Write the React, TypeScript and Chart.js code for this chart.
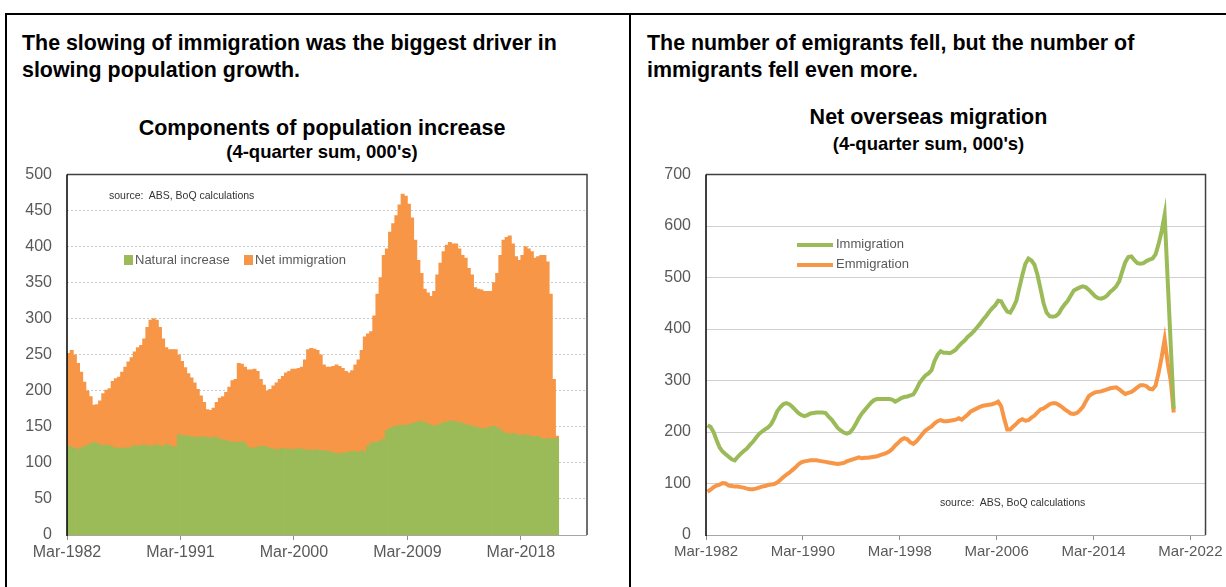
import React, { useEffect, useRef } from "react";
import { Chart, registerables } from "chart.js";

Chart.register(...registerables);

// ---------- data (quarterly, Mar-1982 onward, 4-quarter sums, 000's) ----------
const naturalIncrease = [
  123, 122, 120, 118, 121, 123, 124, 127, 128, 127,
  125, 124, 125, 124, 122, 121, 120, 121, 120, 121,
  122, 124, 123, 124, 125, 124, 123, 124, 125, 124,
  122, 126, 124, 122, 123, 139, 138, 138, 137, 136,
  136, 135, 136, 136, 135, 134, 136, 135, 133, 132,
  131, 129, 129, 128, 129, 129, 127, 122, 120, 121,
  122, 123, 123, 122, 120, 119, 118, 119, 120, 119,
  119, 118, 119, 120, 119, 118, 118, 117, 118, 118,
  117, 117, 116, 116, 114, 113, 113, 114, 114, 115,
  116, 116, 115, 117, 115, 123, 127, 129, 128, 131,
  133, 145, 148, 150, 151, 152, 152, 152, 153, 154,
  156, 157, 158, 156, 154, 152, 151, 152, 154, 156,
  157, 158, 158, 157, 156, 155, 153, 152, 151, 150,
  149, 148, 147, 149, 150, 151, 149, 146, 143, 141,
  140, 141, 140, 138, 139, 139, 138, 137, 136, 137,
  134, 133, 134, 133, 134, 134,
];

const netImmigration = [
  129, 134, 130, 120, 105, 89, 76, 65, 52, 54,
  61, 72, 76, 79, 91, 96, 99, 105, 113, 119,
  124, 130, 137, 139, 147, 164, 175, 176, 173, 164,
  150, 134, 133, 135, 134, 111, 103, 94, 87, 82,
  75, 67, 57, 48, 39, 39, 40, 49, 57, 60,
  67, 76, 85, 88, 109, 108, 106, 107, 109, 109,
  105, 93, 85, 78, 82, 88, 93, 97, 100, 106,
  108, 112, 111, 111, 114, 125, 139, 142, 140, 138,
  133, 119, 117, 117, 120, 123, 121, 117, 113, 110,
  112, 120, 128, 139, 160, 156, 155, 175, 206, 226,
  255, 252, 272, 282, 292, 306, 321, 318, 306, 286,
  253, 224, 205, 185, 182, 179, 187, 209, 223, 237,
  245, 248, 246, 247, 241, 233, 231, 218, 210, 193,
  192, 192, 191, 189, 188, 199, 214, 242, 266, 272,
  275, 263, 246, 243, 249, 261, 259, 256, 248, 249,
  254, 255, 245, 201, 82, 3,
];

const immigration = [
  213, 210, 200, 184, 170, 162, 157, 152, 147, 145,
  152, 158, 163, 168, 175, 181, 189, 196, 201, 205,
  209, 215, 226, 240, 248, 254, 256, 254, 249, 243,
  237, 233, 231, 233, 236, 237, 238, 238, 238, 237,
  230, 224, 216, 208, 203, 199, 197, 199, 206, 216,
  227, 236, 243, 250, 257, 262, 264, 264, 264, 264,
  264, 263, 259, 262, 266, 268, 269, 271, 273, 283,
  295, 303, 310, 314, 320, 338, 350, 357, 354, 354,
  353, 356, 360, 367, 373, 378, 385, 390, 396, 403,
  410, 418, 425, 433, 440, 446, 455, 454, 443, 434,
  432, 442, 455, 480, 505, 527, 537, 533, 525, 505,
  478, 450, 432, 425, 424, 425, 430, 440, 448, 455,
  465, 475, 478, 481, 483, 481, 476, 470, 464, 460,
  459, 461, 465, 472, 477, 483, 493, 512, 530, 540,
  541, 534, 528, 527, 528, 532, 535, 537, 545, 565,
  590, 622, 495, 370, 245,
];

const emigration = [
  84, 88, 93, 96, 98, 101, 100, 96, 95, 94,
  94, 93, 92, 90, 89, 89, 90, 92, 94, 95,
  97, 98, 99, 102, 107, 112, 117, 121, 126, 131,
  137, 141, 143, 144, 145, 145, 145, 144, 143, 142,
  141, 140, 139, 138, 139, 140, 143, 145, 147, 149,
  151, 149, 150, 150, 151, 152, 153, 155, 157, 159,
  162, 167, 174, 179, 185, 188, 186, 180, 177, 182,
  189, 196, 203, 207, 211, 217, 221, 223, 221, 221,
  222, 223, 224, 227, 224, 229, 234, 240, 243, 246,
  249, 251, 252, 253, 254, 256, 259, 250, 226, 205,
  205, 211, 216, 222, 225, 222, 223, 228, 232, 238,
  244, 246, 250, 254, 256, 256, 253, 249, 244, 240,
  236, 235, 237, 242, 249, 260, 270, 274, 277, 278,
  279, 281, 283, 285, 286, 287, 283, 278, 274, 276,
  278, 282, 287, 291, 291, 289, 284, 283, 290, 315,
  345, 380, 334, 300, 238,
];

const categoryCount = 165;
const leftTickPositions = [0, 36, 72, 108, 144];
const leftTickLabels = ["Mar-1982", "Mar-1991", "Mar-2000", "Mar-2009", "Mar-2018"];
const rightTickPositions = [0, 32, 64, 96, 128, 160];
const rightTickLabels = ["Mar-1982", "Mar-1990", "Mar-1998", "Mar-2006", "Mar-2014", "Mar-2022"];

const GREEN = "#9BBB59";
const ORANGE = "#F79646";
const SANS = "'Liberation Sans', Arial, Helvetica, sans-serif";
const TICK_COLOR = "#595959";

const framePlugin = {
  id: "plotFrame",
  afterDatasetsDraw(chart: any) {
    const { ctx, chartArea: a } = chart;
    ctx.save();
    ctx.lineWidth = 1;
    ctx.strokeStyle = "#a6a6a6";
    ctx.beginPath();
    ctx.moveTo(a.left, a.bottom + 0.5);
    ctx.lineTo(a.right, a.bottom + 0.5);
    ctx.stroke();
    ctx.lineWidth = 1.5;
    ctx.strokeStyle = "#404040";
    ctx.beginPath();
    ctx.moveTo(a.left, a.top);
    ctx.lineTo(a.right, a.top);
    ctx.lineTo(a.right, a.bottom);
    ctx.stroke();
    ctx.strokeStyle = "#000000";
    ctx.beginPath();
    ctx.moveTo(a.left, a.top);
    ctx.lineTo(a.left, a.bottom + 1);
    ctx.stroke();
    ctx.restore();
  },
};

function xScale(positions: number[], labels: string[], fontSize: number) {
  return {
    type: "linear" as const,
    min: 0,
    max: categoryCount,
    offset: false,
    stacked: true,
    border: { display: false },
    grid: {
      offset: false,
      drawOnChartArea: false,
      drawTicks: true,
      tickLength: 5,
      color: "#8c8c8c",
    },
    ticks: {
      autoSkip: false,
      maxRotation: 0,
      padding: 3,
      color: TICK_COLOR,
      font: { family: SANS, size: fontSize },
      callback: (v: any) => {
        const k = positions.indexOf(Number(v));
        return k >= 0 ? labels[k] : "";
      },
    },
    afterBuildTicks: (s: any) => {
      s.ticks = positions.map((v) => ({ value: v }));
    },
    afterFit: (s: any) => {
      s.height = 45;
    },
  };
}

function LeftChart() {
  const ref = useRef<HTMLCanvasElement | null>(null);
  useEffect(() => {
    if (!ref.current) return;
    const chart = new Chart(ref.current, {
      type: "bar",
      data: {
        datasets: [
          {
            label: "Natural increase",
            data: naturalIncrease.map((v, i) => ({ x: i + 0.5, y: v })),
            backgroundColor: GREEN,
            borderWidth: 0,
            inflateAmount: 0.4,
            categoryPercentage: 1,
            barPercentage: 1,
          },
          {
            label: "Net immigration",
            data: netImmigration.map((v, i) => ({ x: i + 0.5, y: v })),
            backgroundColor: ORANGE,
            borderWidth: 0,
            inflateAmount: 0.4,
            categoryPercentage: 1,
            barPercentage: 1,
          },
        ],
      } as any,
      options: {
        animation: false,
        responsive: false,
        maintainAspectRatio: false,
        layout: { padding: { top: 18, right: 37, left: 0, bottom: 0 } },
        plugins: { legend: { display: false }, tooltip: { enabled: false } },
        scales: {
          x: xScale(leftTickPositions, leftTickLabels, 16) as any,
          y: {
            stacked: true,
            min: 0,
            max: 500,
            border: { display: false, dash: [2, 2] },
            grid: { color: "#c8c8c8", drawTicks: false, lineWidth: 1 },
            ticks: {
              stepSize: 50,
              padding: 15,
              color: TICK_COLOR,
              font: { family: SANS, size: 16 },
            },
            afterFit: (s: any) => {
              s.width = 59;
            },
          },
        },
      },
      plugins: [framePlugin],
    });
    return () => chart.destroy();
  }, []);
  return (
    <canvas
      ref={ref}
      width={616}
      height={430}
      style={{ position: "absolute", left: 8, top: 150, width: 616, height: 430 }}
    />
  );
}

function RightChart() {
  const ref = useRef<HTMLCanvasElement | null>(null);
  useEffect(() => {
    if (!ref.current) return;
    const chart = new Chart(ref.current, {
      type: "line",
      data: {
        datasets: [
          {
            label: "Immigration",
            data: immigration.map((v, i) => ({ x: i + 0.5, y: v })),
            borderColor: GREEN,
            backgroundColor: GREEN,
            borderWidth: 4,
            pointRadius: 0,
            tension: 0,
            fill: false,
          },
          {
            label: "Emmigration",
            data: emigration.map((v, i) => ({ x: i + 0.5, y: v })),
            borderColor: ORANGE,
            backgroundColor: ORANGE,
            borderWidth: 4,
            pointRadius: 0,
            tension: 0,
            fill: false,
          },
        ],
      } as any,
      options: {
        animation: false,
        responsive: false,
        maintainAspectRatio: false,
        layout: { padding: { top: 18, right: 17, left: 0, bottom: 0 } },
        plugins: { legend: { display: false }, tooltip: { enabled: false } },
        scales: {
          x: xScale(rightTickPositions, rightTickLabels, 15) as any,
          y: {
            min: 0,
            max: 700,
            border: { display: false },
            grid: { color: "#d0d0d0", drawTicks: false, lineWidth: 1 },
            ticks: {
              stepSize: 100,
              padding: 15,
              color: TICK_COLOR,
              font: { family: SANS, size: 16 },
            },
            afterFit: (s: any) => {
              s.width = 66;
            },
          },
        },
      },
      plugins: [framePlugin],
    });
    return () => chart.destroy();
  }, []);
  return (
    <canvas
      ref={ref}
      width={586}
      height={430}
      style={{ position: "absolute", left: 640, top: 150, width: 586, height: 430 }}
    />
  );
}

const abs = (s: React.CSSProperties): React.CSSProperties => ({ position: "absolute", ...s });

export default function App() {
  const headStyle: React.CSSProperties = {
    fontFamily: SANS,
    fontWeight: "bold",
    fontSize: 21.4,
    lineHeight: "27px",
    color: "#000",
    whiteSpace: "nowrap",
  };
  const titleStyle: React.CSSProperties = {
    fontFamily: SANS,
    fontWeight: "bold",
    fontSize: 21.5,
    color: "#000",
    textAlign: "center",
    whiteSpace: "nowrap",
    lineHeight: "24px",
  };
  const subStyle: React.CSSProperties = {
    fontFamily: SANS,
    fontWeight: "bold",
    fontSize: 18.5,
    color: "#000",
    textAlign: "center",
    whiteSpace: "nowrap",
    lineHeight: "20px",
  };
  const legendText: React.CSSProperties = {
    fontFamily: SANS,
    fontSize: 13,
    color: TICK_COLOR,
    whiteSpace: "nowrap",
    lineHeight: "16px",
  };
  const sourceText: React.CSSProperties = {
    fontFamily: SANS,
    fontSize: 10.5,
    color: "#333",
    whiteSpace: "nowrap",
    lineHeight: "12px",
  };
  return (
    <div
      style={abs({
        left: 0,
        top: 0,
        width: 1226,
        height: 587,
        overflow: "hidden",
        background: "#fff",
      })}
    >
      {/* panel borders */}
      <div style={abs({ left: 5, top: 13, width: 1221, height: 2, background: "#000" })} />
      <div style={abs({ left: 5, top: 13, width: 2, height: 574, background: "#000" })} />
      <div style={abs({ left: 629, top: 13, width: 2, height: 574, background: "#000" })} />

      {/* headers */}
      <div style={abs({ ...headStyle, left: 22, top: 30 })}>
        The slowing of immigration was the biggest driver in
        <br />
        slowing population growth.
      </div>
      <div style={abs({ ...headStyle, left: 647, top: 30 })}>
        The number of emigrants fell, but the number of
        <br />
        immigrants fell even more.
      </div>

      {/* left chart */}
      <div style={abs({ ...titleStyle, left: 0, width: 644, top: 116 })}>
        Components of population increase
      </div>
      <div style={abs({ ...subStyle, left: 0, width: 644, top: 142 })}>
        (4-quarter sum, 000's)
      </div>
      <LeftChart />
      <div style={abs({ ...sourceText, left: 109, top: 189 })}>source:&nbsp; ABS, BoQ calculations</div>
      <div style={abs({ left: 124, top: 255, width: 9, height: 10, background: GREEN })} />
      <div style={abs({ ...legendText, left: 135, top: 252 })}>Natural increase</div>
      <div style={abs({ left: 244, top: 255, width: 9, height: 10, background: ORANGE })} />
      <div style={abs({ ...legendText, left: 255, top: 252 })}>Net immigration</div>

      {/* right chart */}
      <div style={abs({ ...titleStyle, left: 631, width: 595, top: 105 })}>
        Net overseas migration
      </div>
      <div style={abs({ ...subStyle, left: 631, width: 595, top: 134 })}>
        (4-quarter sum, 000's)
      </div>
      <RightChart />
      <div style={abs({ left: 797, top: 243, width: 36, height: 4, background: GREEN })} />
      <div style={abs({ ...legendText, left: 836, top: 236 })}>Immigration</div>
      <div style={abs({ left: 797, top: 263, width: 36, height: 4, background: ORANGE })} />
      <div style={abs({ ...legendText, left: 836, top: 256 })}>Emmigration</div>
      <div style={abs({ ...sourceText, left: 940, top: 496 })}>source:&nbsp; ABS, BoQ calculations</div>
    </div>
  );
}
